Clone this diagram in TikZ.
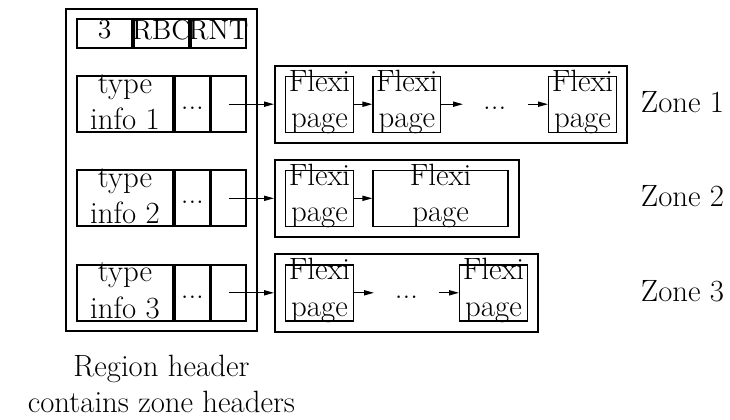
\documentclass[tikz,border=0pt]{standalone}
\usepackage{tikz}
\usetikzlibrary{arrows.meta,positioning,calc,fit}
\tikzset{
  box/.style={draw,line width=0.9pt,inner sep=0pt},
  hcell/.style={box,minimum width=27.6pt,minimum height=14.3pt},
  tcell/.style={box,minimum width=48.3pt,minimum height=28pt},
  ecell/.style={box,minimum width=17.3pt,minimum height=28pt},
  pg/.style={draw,line width=0.7pt,minimum width=33.8pt,minimum height=28pt,inner sep=0pt,
    label={[inner sep=0pt,align=center,yshift=1.1pt]center:Flexi\\page}},
  zone/.style={draw,line width=1pt,inner sep=5pt},
}

\begin{document}
\begin{tikzpicture}[x=0.5pt,y=-0.5pt,font=\fontsize{15.4}{18.3}\selectfont,
  ar/.style={-{Triangle[length=5pt,width=2.6pt]},line width=0.6pt},
  hl/.style={inner sep=0pt,yshift=1.8pt,font=\fontsize{13.9}{16}\selectfont},
  dotsn/.style={inner sep=0pt,yshift=-2pt}]
  \useasboundingbox (0,0) rectangle (730,419);
  % region header: the counts row, then one row per zone
  \node[hcell,label={[hl]center:3}] (rbc1) at (104.6,33.4) {};
  \node[hcell,right=0pt of rbc1,label={[hl]center:RBC}] (rbc2) {};
  \node[hcell,right=0pt of rbc2,label={[hl]center:RNT}] (rbc3) {};
  \foreach \i/\y in {1/104.2,2/198.3,3/292.8} {
    \node[tcell,label={[inner sep=0pt,align=center,yshift=1pt]center:type\\info \i}] (ti\i) at (125,\y) {};
    \node[ecell,right=0pt of ti\i,label={[dotsn]center:...}] (dt\i) {};
    \node[ecell,right=0pt of dt\i] (pt\i) {};
  }
  \node[draw,line width=1pt,inner sep=4.8pt,fit=(rbc1)(rbc3)(ti3)(pt3)] (hdr) {};
  \node[below=11pt of hdr,align=center,inner sep=0pt] (cap) {Region header\\contains zone headers};

  % zone 1
  \node[pg,right=19pt of pt1] (p11) {};
  \node[pg,right=9.2pt of p11] (p12) {};
  \node[pg,right=53.3pt of p12] (p13) {};
  \coordinate[right=10.8pt of p12] (a12);
  \coordinate[left=10pt of p13] (b13);
  \node[dotsn] (d1) at ($(p12.east)!0.5!(p13.west)$) {...};
  \node[zone,fit=(p11)(p13)] (z1) {};
  \draw[ar] (p11) -- (p12);
  \draw[ar] (p12.east) -- (a12);
  \draw[ar] (b13) -- (p13.west);

  % zone 2
  \node[pg,right=19pt of pt2] (p21) {};
  \node[pg,minimum width=67.5pt,right=9.2pt of p21] (p22) {};
  \node[zone,fit=(p21)(p22)] (z2) {};
  \draw[ar] (p21) -- (p22);

  % zone 3
  \node[pg,right=19pt of pt3] (p31) {};
  \node[pg,right=52.5pt of p31] (p32) {};
  \coordinate[right=10pt of p31] (a31);
  \coordinate[left=10.2pt of p32] (b32);
  \node[dotsn] (d3) at ($(p31.east)!0.5!(p32.west)$) {...};
  \node[zone,fit=(p31)(p32)] (z3) {};
  \draw[ar] (p31.east) -- (a31);
  \draw[ar] (b32) -- (p32.west);

  \foreach \i in {1,2,3} {
    \draw[ar] (pt\i.center) -- (z\i.west);
    \node[yshift=1pt] (zl\i) at (682.5,0 |- z\i) {Zone \i};
  }
\end{tikzpicture}
\end{document}
